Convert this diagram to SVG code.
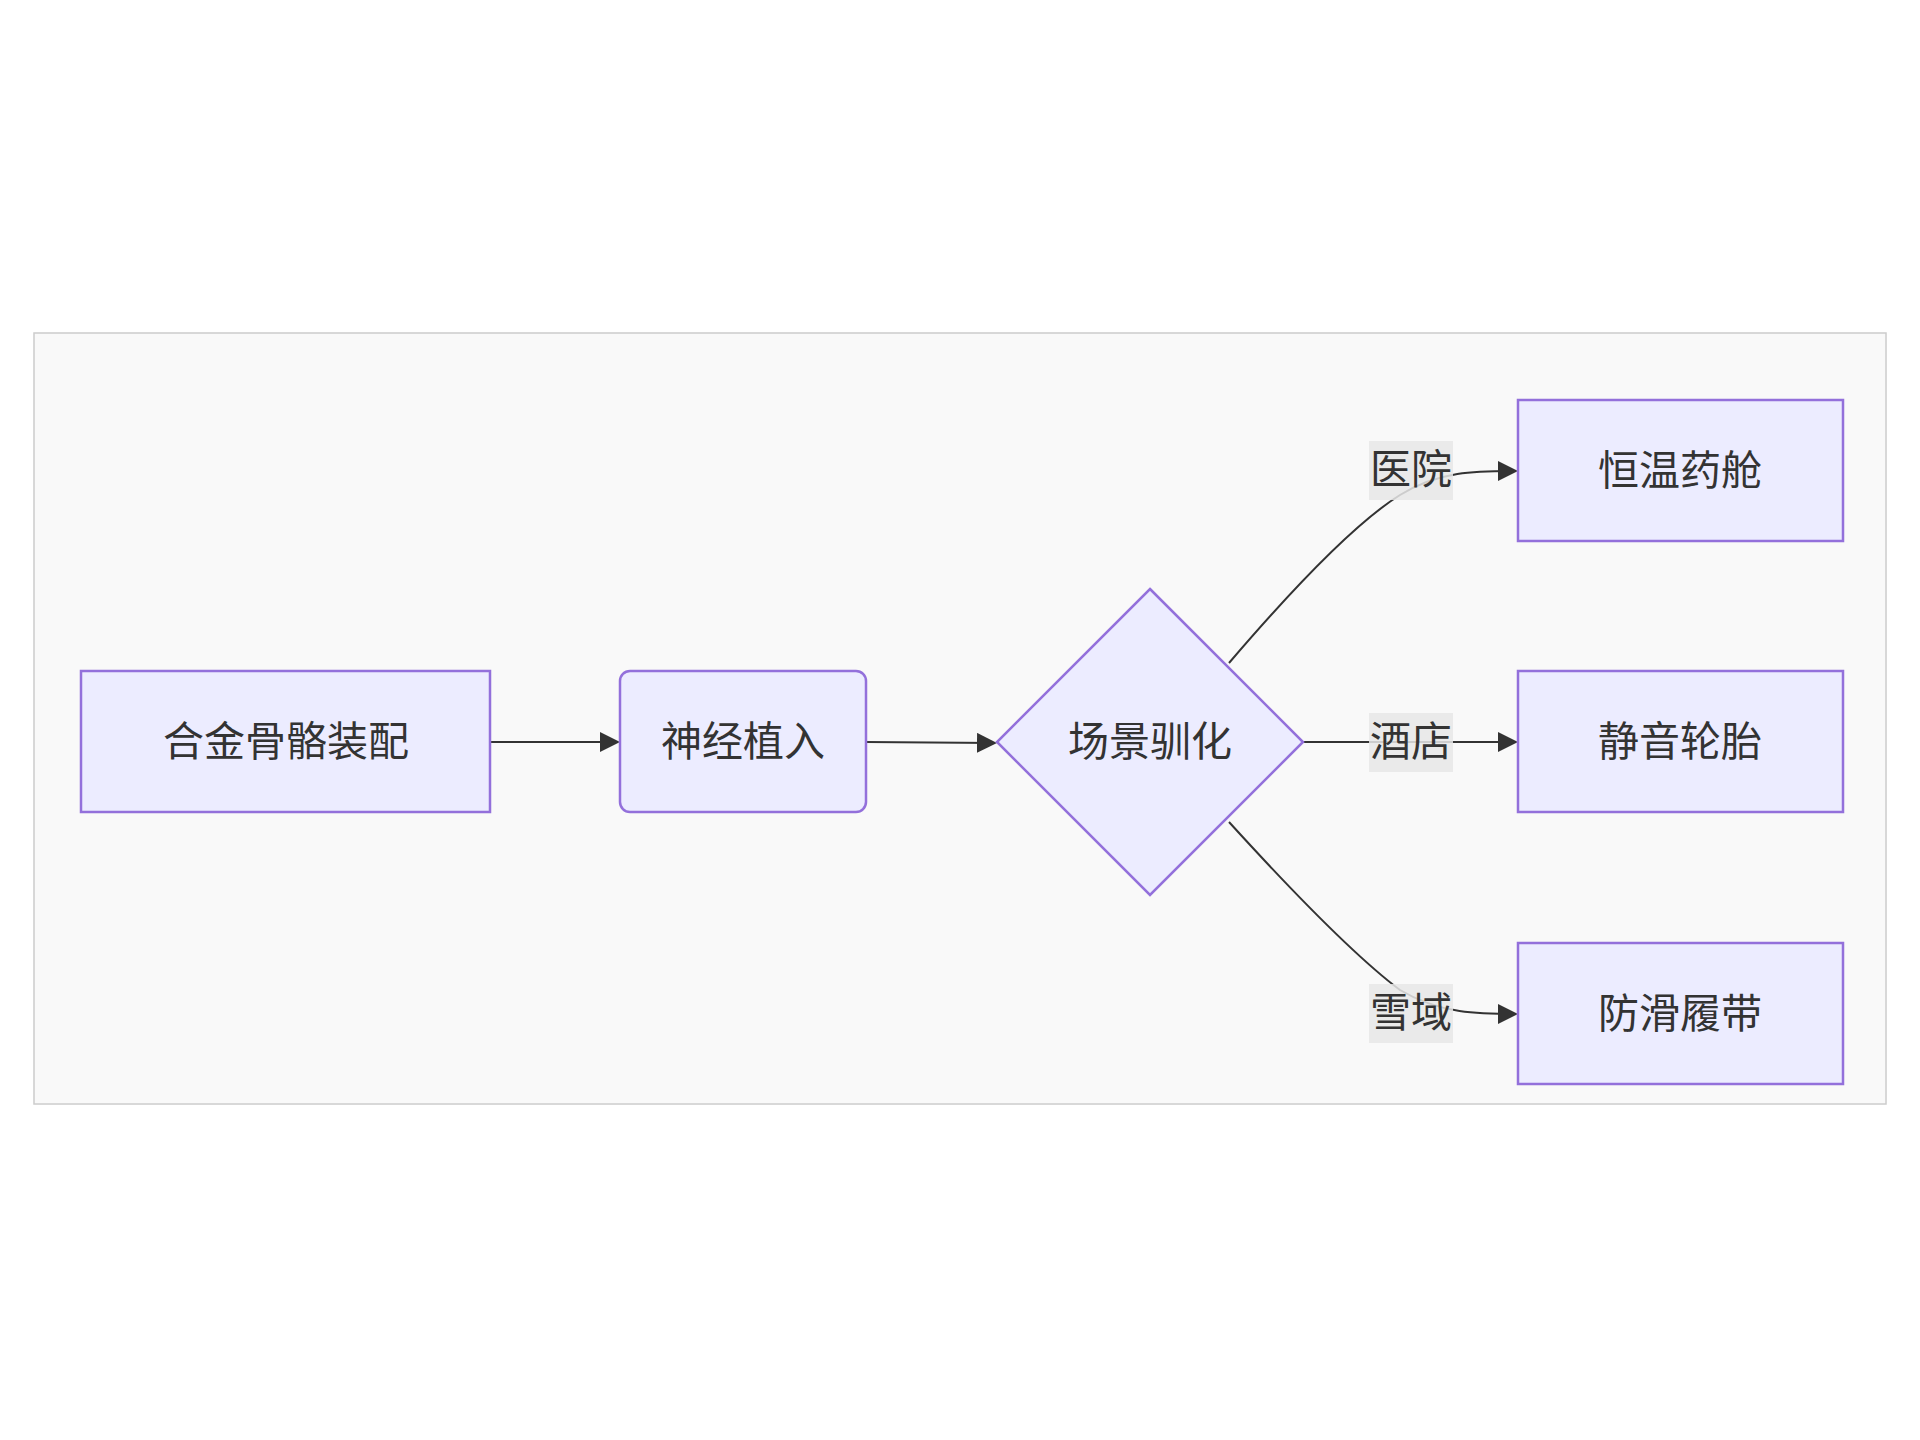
<svg xmlns="http://www.w3.org/2000/svg" width="1920" height="1440" viewBox="0 0 1920 1440">
<style>
.n{fill:#ECECFF;stroke:#9370DB;stroke-width:2.5}
.t{font-family:"Liberation Sans","Noto Sans CJK SC",sans-serif;font-size:41px;fill:#333;text-anchor:middle;dominant-baseline:central}
.e{fill:none;stroke:#333;stroke-width:2}
.lb{fill:#e8e8e8;opacity:0.85}
</style>
<defs><marker id="a" viewBox="0 0 10 10" refX="9" refY="5" markerWidth="20" markerHeight="20" markerUnits="userSpaceOnUse" orient="auto"><path d="M0,0L10,5L0,10z" fill="#333"/></marker></defs>
<rect width="1920" height="1440" fill="#fff"/>
<rect x="34" y="333" width="1852" height="771" fill="#f9f9f9" stroke="#ccc" stroke-width="1.5"/>
<g id="edges">
<path class="e" d="M490,742H618" marker-end="url(#a)"/>
<path class="e" d="M866,742L995,743" marker-end="url(#a)"/>
<path class="e" d="M1229,663C1300,580 1360,520 1400,495C1440,470 1480,471 1516,471" marker-end="url(#a)"/>
<path class="e" d="M1303,742H1516" marker-end="url(#a)"/>
<path class="e" d="M1229,822C1300,900 1360,960 1400,990C1440,1014 1480,1014 1516,1014" marker-end="url(#a)"/>
</g>
<g id="A"><rect class="n" x="81" y="671" width="409" height="141"/><text class="t" x="286" y="742">合金骨骼装配</text></g>
<g id="B"><rect class="n" x="620" y="671" width="246" height="141" rx="10"/><text class="t" x="743" y="742">神经植入</text></g>
<g id="C"><polygon class="n" points="1150,589 1303,742 1150,895 997,742"/><text class="t" x="1150" y="742">场景驯化</text></g>
<g id="D"><rect class="n" x="1518" y="400" width="325" height="141"/><text class="t" x="1680" y="471">恒温药舱</text></g>
<g id="E"><rect class="n" x="1518" y="671" width="325" height="141"/><text class="t" x="1680" y="742">静音轮胎</text></g>
<g id="F"><rect class="n" x="1518" y="943" width="325" height="141"/><text class="t" x="1680" y="1014">防滑履带</text></g>
<g id="labels">
<rect class="lb" x="1369" y="441" width="84" height="59"/><text class="t" x="1411" y="470">医院</text>
<rect class="lb" x="1369" y="713" width="84" height="59"/><text class="t" x="1411" y="742">酒店</text>
<rect class="lb" x="1369" y="984" width="84" height="59"/><text class="t" x="1411" y="1013">雪域</text>
</g>
</svg>
